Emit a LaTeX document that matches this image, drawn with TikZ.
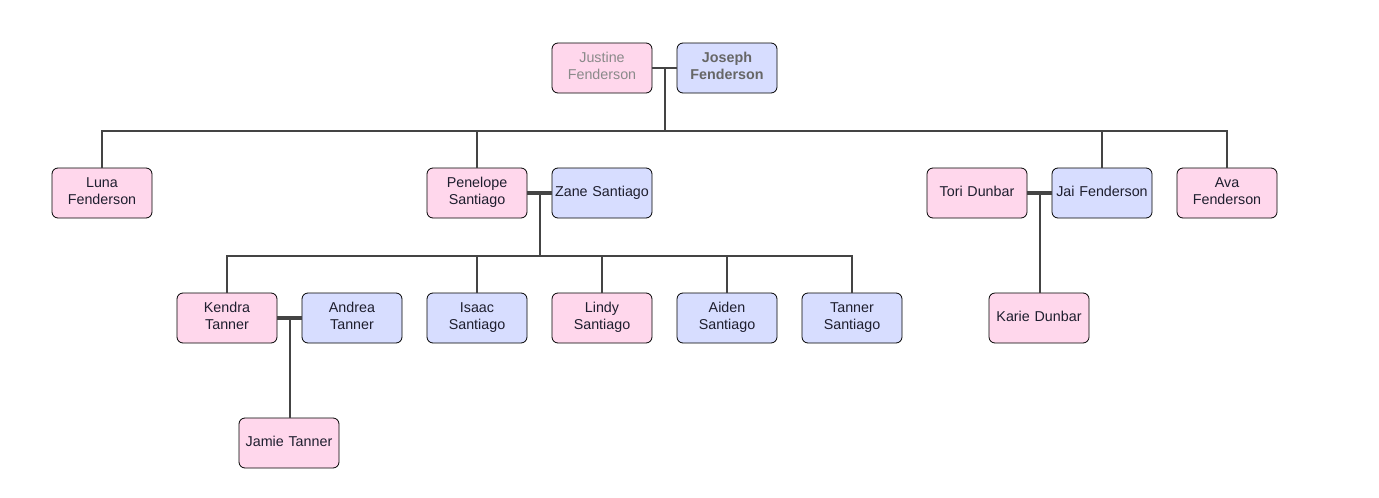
\documentclass[tikz,border=0pt]{standalone}
\usepackage{fontspec}
\setmainfont{Liberation Sans}
\usepackage{tikz}
\usetikzlibrary{positioning,calc}
\usepackage{xcolor}
\definecolor{ink}{HTML}{1e1e2e}
\definecolor{wire}{HTML}{444444}
\definecolor{girl}{HTML}{FFD7EC}
\definecolor{boy}{HTML}{D7DDFF}
\definecolor{faded}{HTML}{8a8a8a}
\definecolor{dim}{HTML}{666666}

\begin{document}
\begin{tikzpicture}[x=1pt,y=-1pt,
  p/.style={draw=black,rounded corners=6pt,line width=0.8pt,minimum width=100pt,minimum height=50pt,inner sep=1pt,text width=98pt,align=center,text=ink,
    execute at begin node=\strut,execute at end node=\strut},
  f/.style={p,fill=girl},
  m/.style={p,fill=boy},
  kin/.style={draw=wire,line width=2pt},
  wed/.style={draw=wire,line width=4.5pt},
  every node/.style={font=\fontsize{14.3}{17}\selectfont}]
 \useasboundingbox (0,0) rectangle (1379,498);
 % generation 1
 \node[f,text=faded] (justine) at (602,68) {Justine\\ Fenderson};
 \node[m,text=dim,font=\fontsize{14.3}{17}\selectfont\bfseries] (joseph) at (727,68) {Joseph\\ Fenderson};
 % generation 2
 \node[f] (luna) at (102,193) {Luna\\ Fenderson};
 \node[f] (penelope) at (477,193) {Penelope\\ Santiago};
 \node[m] (zane) at (602,193) {Zane Santiago};
 \node[f] (tori) at (977,193) {Tori Dunbar};
 \node[m] (jai) at (1102,193) {Jai Fenderson};
 \node[f] (ava) at (1227,193) {Ava\\ Fenderson};
 % generation 3
 \node[f] (kendra) at (227,318) {Kendra\\ Tanner};
 \node[m] (andrea) at (352,318) {Andrea\\ Tanner};
 \node[m] (isaac) at (477,318) {Isaac\\ Santiago};
 \node[f] (lindy) at (602,318) {Lindy\\ Santiago};
 \node[m] (aiden) at (727,318) {Aiden\\ Santiago};
 \node[m] (tanner) at (852,318) {Tanner\\ Santiago};
 \node[f] (karie) at (1039,318) {Karie Dunbar};
 % generation 4
 \node[f] (jamie) at (289,443) {Jamie Tanner};
 % couples
 \coordinate (c1) at ($(justine.east)!0.5!(joseph.west)$);
 \coordinate (c2) at ($(penelope.east)!0.5!(zane.west)$);
 \coordinate (c3) at ($(kendra.east)!0.5!(andrea.west)$);
 \coordinate (c4) at ($(tori.east)!0.5!(jai.west)$);
 \draw[kin] (justine) -- (joseph);
 \draw[wed] (penelope) -- (zane);
 \draw[wed] (kendra) -- (andrea);
 \draw[wed] (tori) -- (jai);
 % children
 \draw[kin] (c1) -- ++(0,63) -| (luna);
 \draw[kin] (c1) ++(0,63) -| (penelope);
 \draw[kin] (c1) ++(0,63) -| (jai);
 \draw[kin] (c1) ++(0,63) -| (ava);
 \draw[kin] (c2) -- ++(0,63) -| (kendra);
 \draw[kin] (c2) ++(0,63) -| (isaac);
 \draw[kin] (c2) ++(0,63) -| (lindy);
 \draw[kin] (c2) ++(0,63) -| (aiden);
 \draw[kin] (c2) ++(0,63) -| (tanner);
 \draw[kin] (c3) -- (c3 |- jamie.north);
 \draw[kin] (c4) -- (c4 |- karie.north);
\end{tikzpicture}
\end{document}
